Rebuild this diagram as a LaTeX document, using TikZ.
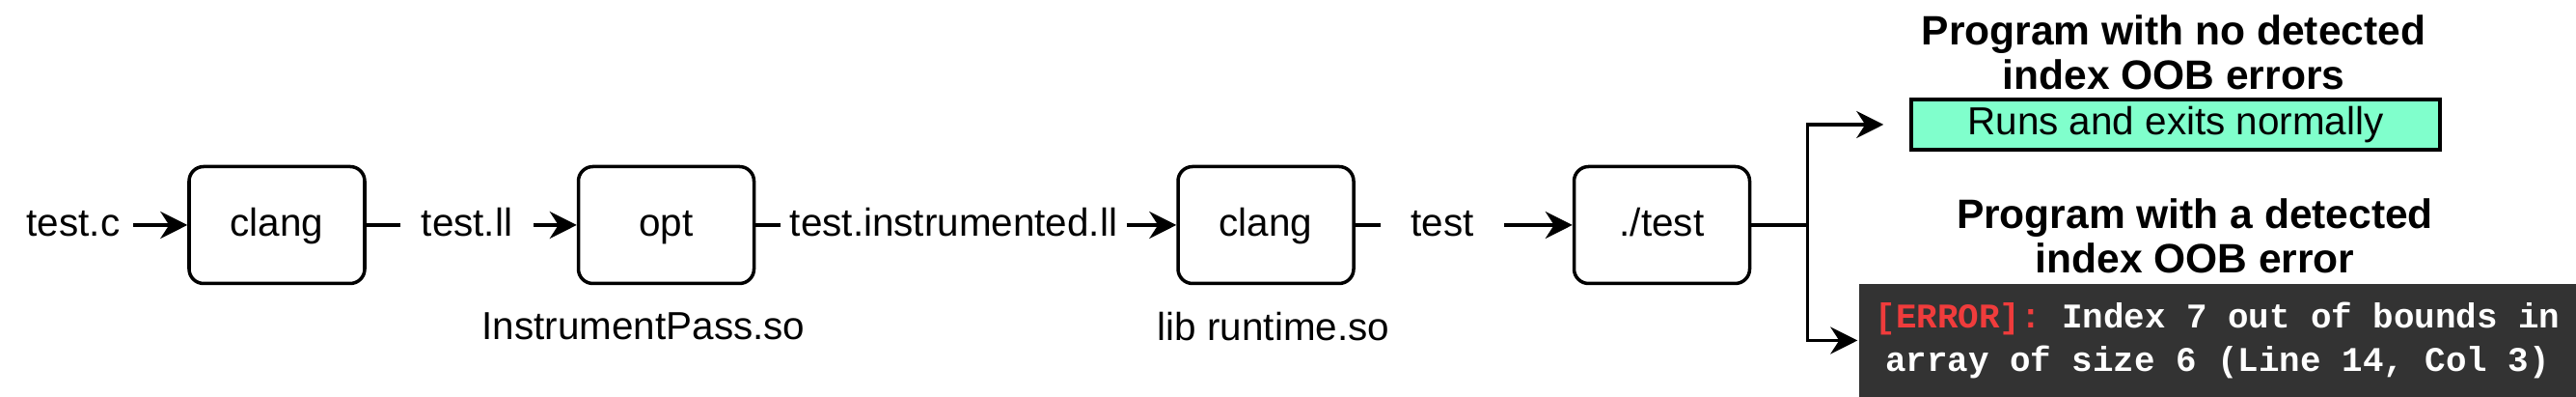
\documentclass[tikz,border=0pt]{standalone}
\usepackage{fontspec}
\setmainfont{Liberation Sans}
\setmonofont{Liberation Mono}
\usetikzlibrary{arrows.meta}
\definecolor{okgreen}{HTML}{80FFCC}
\definecolor{errbg}{HTML}{333333}
\definecolor{errred}{HTML}{F03C3C}
\begin{document}
\begin{tikzpicture}[>={Stealth[length=2.8mm,width=2.8mm,inset=0.9mm]}, font=\fontsize{11.5}{13.8}\selectfont, line width=1pt]
		\tikzstyle{tool} =[draw, rounded corners=0.15cm, minimum width=1.82cm, minimum height=1.21cm, text height=0.8em, text depth=0.15em];
		\tikzstyle{file} =[inner xsep=0.12cm, inner ysep=0.05cm, text height=0.8em, text depth=0.15em];
		\tikzstyle{heading} =[align=center, font=\fontsize{12.1}{13}\selectfont\bfseries];
		\useasboundingbox (0,0) rectangle (26.7,-4.11);
		\node[file] (testc) at (0.76,-2.33) {test.c};
		\node[tool, right of = testc, node distance=2.11cm] (clangA) {clang};
		\node[file, right of = clangA, node distance=1.97cm, inner xsep=0.2cm] (testll) {test.ll};
		\node[tool, right of = testll, node distance=2.065cm] (opt) {opt};
		\node[file, below of = opt, node distance=1.07cm, xshift=-0.235cm] (instrpass) {InstrumentPass.so};
		\node[file, right of = opt, node distance=2.98cm, inner xsep=0.08cm] (testinstr) {test.instrumented.ll};
		\node[tool, right of = testinstr, node distance=3.235cm] (clangB) {clang};
		\node[file, below of = clangB, node distance=1.08cm, xshift=0.08cm] (libruntime) {lib runtime.so};
		\node[file, right of = clangB, node distance=1.83cm, inner xsep=0.3cm] (testexe) {test};
		\node[tool, right of = testexe, node distance=2.275cm] (runexe) {./test};
		\coordinate[right of = runexe, node distance=1.51cm] (split);
		
		\node[heading] (okhead) at (22.53,-0.54) {Program with no detected\\index OOB errors};
		\node[draw, fill=okgreen, minimum width=5.48cm, minimum height=0.52cm, inner sep=0pt, below of = okhead, node distance=0.75cm, xshift=0.02cm] (okbox) {Runs and exits normally};
		\node[heading] (errhead) at (22.75,-2.44) {Program with a detected\\index OOB error};
		\node[fill=errbg, text=white, align=center, minimum width=7.43cm, minimum height=1.17cm, inner sep=0pt, font=\fontsize{10.2}{12.8}\selectfont\ttfamily\bfseries] (errbox) at (22.985,-3.525) {\textcolor{errred}{[ERROR]:} Index 7 out of bounds in\\array of size 6 (Line 14, Col 3)};
		
		\draw[->] (testc) -- (clangA);
		\draw (clangA) -- (testll);
		\draw[->] (testll) -- (opt);
		\draw (opt) -- (testinstr);
		\draw[->] (testinstr) -- (clangB);
		\draw (clangB) -- (testexe);
		\draw[->] (testexe) -- (runexe);
		\draw (runexe) -- (split);
		\draw[->, shorten >=0.27cm] (split) |- (okbox);
		\draw[->] (split) |- (errbox);
	\end{tikzpicture}
\end{document}
